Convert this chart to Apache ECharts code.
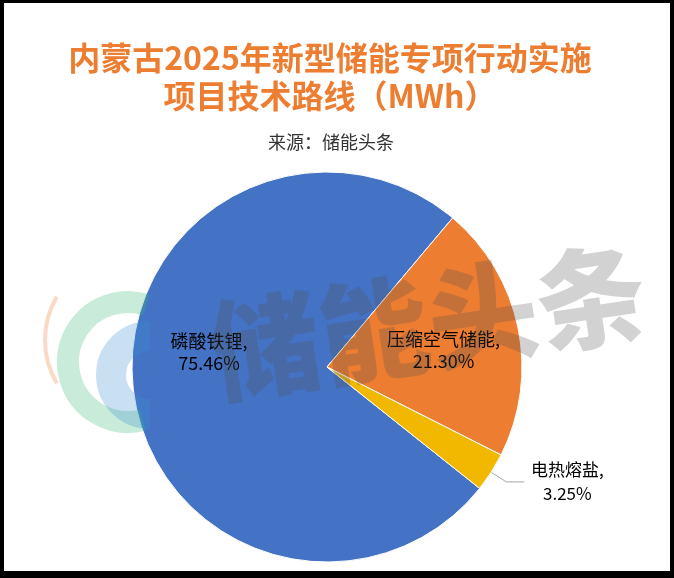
<!DOCTYPE html>
<html>
<head>
<meta charset="utf-8">
<script src="https://cdn.jsdelivr.net/npm/echarts@6/dist/echarts.min.js"></script>
<style>
  html, body { margin: 0; padding: 0; background: #fff; }
  #wrap { position: relative; width: 674px; height: 578px; }
  #chart { width: 674px; height: 578px; }
  #frame { position: absolute; left: 0; top: 0; width: 674px; height: 578px; box-sizing: border-box;
           border-left: 4px solid #000; border-right: 4px solid #000; border-top: 3px solid #000; border-bottom: 7px solid #000;
           pointer-events: none; }
</style>
</head>
<body>
<div id="wrap"><div id="chart"></div><div id="frame"></div></div>
<script>
// ---- data ----
const categories = ['磷酸铁锂', '压缩空气储能', '电热熔盐'];
const shares = [75.46, 21.30, 3.25];           // percent of total MWh
const colors = ['#4472C4', '#ED7D31', '#F2B800'];
const titleLines = ['内蒙古2025年新型储能专项行动实施', '项目技术路线（MWh）'];
const sourceText = '来源：储能头条';
const watermarkText = '储能头条';

const FONT = '"Noto Sans CJK SC", "Noto Sans", sans-serif';

const chart = echarts.init(document.getElementById('chart'), null, { renderer: 'canvas' });

const labelShift = [[-18, -25], [18, 3], [0, 0]];

const seriesData = categories.map((name, i) => {
  const item = { name: name, value: shares[i], itemStyle: { color: colors[i] } };
  if (i === 2) {
    item.label = {
      position: 'outside',
      formatter: p => '{a|' + p.name + ',}\n{a|' + p.value.toFixed(2) + '%}',
      rich: { a: { width: 76, align: 'center', fontSize: 17, lineHeight: 24, color: '#000', fontFamily: FONT } }
    };
    item.labelLine = { show: true, length: 18, length2: 18, lineStyle: { color: '#A6A6A6', width: 1 } };
  }
  return item;
});

const option = {
  backgroundColor: '#fff',
  animation: false,
  title: [
    {
      text: titleLines.join('\n'),
      left: 325, top: 34, textAlign: 'center',
      textStyle: { color: '#ED7D31', fontSize: 32, fontWeight: 'bold', lineHeight: 38, fontFamily: FONT }
    },
    {
      text: sourceText,
      left: 326, top: 128, textAlign: 'center',
      textStyle: { color: '#333', fontSize: 18, fontWeight: 'normal', fontFamily: FONT }
    }
  ],
  series: [{
    type: 'pie',
    center: [327, 367],
    radius: 195,
    startAngle: 321.5,
    clockwise: true,
    avoidLabelOverlap: false,
    itemStyle: { borderColor: '#fff', borderWidth: 1 },
    label: {
      show: true,
      position: 'inside',
      formatter: p => p.name + ',\n' + p.value.toFixed(2) + '%',
      color: '#000',
      fontSize: 18,
      lineHeight: 22,
      fontFamily: FONT,
      align: 'center'
    },
    labelLine: { show: false },
    labelLayout: function (params) {
      const s = labelShift[params.dataIndex];
      return { dx: s[0], dy: s[1] };
    },
    data: seriesData
  }],
  graphic: [
    { type: 'arc', z: 100, silent: true,
      shape: { cx: 130, cy: 340, r: 85, startAngle: Math.PI * 0.83, endAngle: Math.PI * 1.17, clockwise: true },
      style: { fill: null, stroke: 'rgba(240,128,64,0.3)', lineWidth: 4 } },
    { type: 'arc', z: 100, silent: true,
      shape: { cx: 128, cy: 362, r: 60, startAngle: Math.PI * 0.42, endAngle: Math.PI * 1.6, clockwise: true },
      style: { fill: null, stroke: 'rgba(60,184,120,0.28)', lineWidth: 22 } },
    { type: 'arc', z: 100, silent: true,
      shape: { cx: 150, cy: 375, r: 39, startAngle: Math.PI * 0.5, endAngle: Math.PI * 1.5, clockwise: true },
      style: { fill: null, stroke: 'rgba(58,143,208,0.28)', lineWidth: 30 } },
    { type: 'text', z: 101, silent: true,
      x: 428, y: 322, rotation: 8.5 * Math.PI / 180,
      style: { text: watermarkText, fontSize: 110, fontWeight: 900, fontFamily: FONT,
               fill: 'rgba(80,80,80,0.26)', align: 'center', verticalAlign: 'middle' } }
  ]
};

chart.setOption(option);
</script>
</body>
</html>
